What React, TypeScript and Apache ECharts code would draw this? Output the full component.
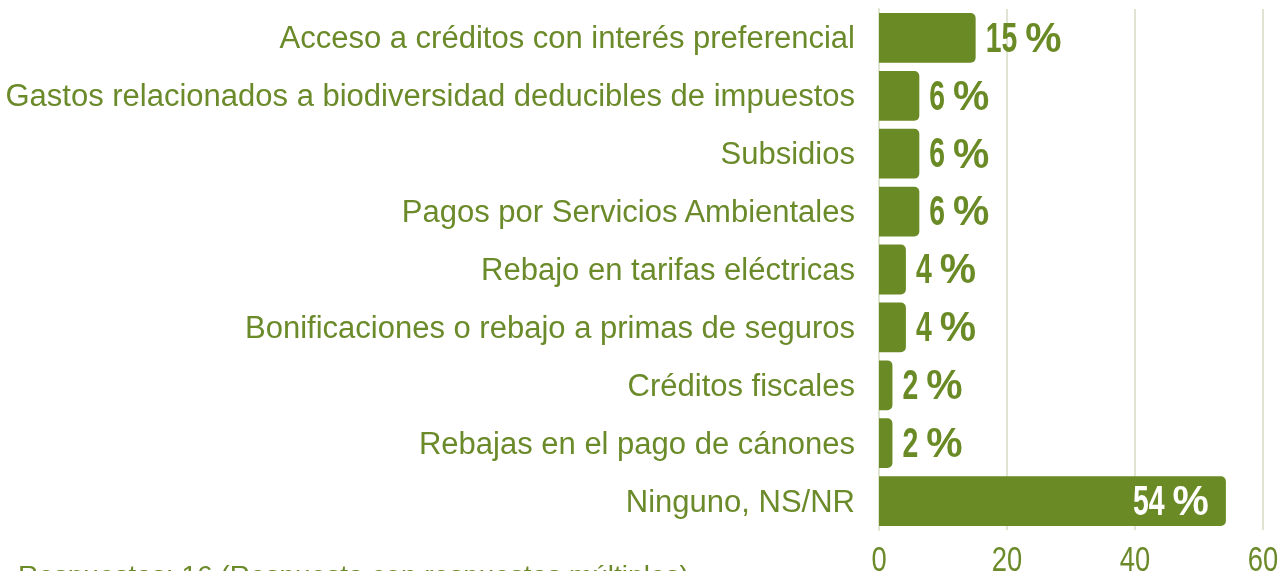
import React, { useEffect, useRef } from "react";
import * as echarts from "echarts";

const categories = [
  "Acceso a créditos con interés preferencial",
  "Gastos relacionados a biodiversidad deducibles de impuestos",
  "Subsidios",
  "Pagos por Servicios Ambientales",
  "Rebajo en tarifas eléctricas",
  "Bonificaciones o rebajo a primas de seguros",
  "Créditos fiscales",
  "Rebajas en el pago de cánones",
  "Ninguno, NS/NR",
];
const values = [15.1, 6.3, 6.3, 6.3, 4.2, 4.2, 2.1, 2.1, 54.2];
const xTicks = [0, 20, 40, 60];
const footnote = "Respuestas: 16 (Respuesta con respuestas múltiples)";

const GREEN = "#6a8a25";
const TEXT_GREEN = "#6b8a2a";
const GRID = "#dfe4d3";

const NUM_FONT = "bold 43px 'Liberation Sans', Arial, sans-serif";
const NUM_SCALE = 0.66;
const PCT_SCALE = 0.95;
const TICK_FONT = "36px 'Liberation Sans', Arial, sans-serif";

function measure(text: string, font: string): number {
  const ctx = document.createElement("canvas").getContext("2d");
  if (!ctx) return text.length * 20;
  ctx.font = font;
  return ctx.measureText(text).width;
}

export default function App() {
  const ref = useRef<HTMLDivElement>(null);
  useEffect(() => {
    if (!ref.current) return;
    const chart = echarts.init(ref.current, undefined, {
      renderer: "svg",
      width: 1281,
      height: 571,
    });
    const maxIdx = values.indexOf(Math.max(...values));
    const pctW = measure("%", NUM_FONT) * PCT_SCALE;
    const gap = 8;

    const labelItem = (params: any, api: any) => {
      const v = api.value(0);
      const idx = api.value(1);
      const [x, yc] = api.coord([v, idx]);
      const y = yc - 1;
      const num = String(Math.round(v));
      const numW = measure(num, NUM_FONT) * NUM_SCALE;
      const inside = params.dataIndex === maxIdx;
      const fill = inside ? "#ffffff" : GREEN;
      const start = inside ? x - 17 - pctW - gap - numW : x + 10;
      return {
        type: "group",
        children: [
          {
            type: "text",
            x: start,
            y,
            scaleX: NUM_SCALE,
            style: {
              text: num,
              fill,
              font: NUM_FONT,
              align: "left",
              verticalAlign: "middle",
              textAlign: "left",
              textVerticalAlign: "middle",
            },
          },
          {
            type: "text",
            x: start + numW + gap,
            y,
            scaleX: PCT_SCALE,
            style: {
              text: "%",
              fill,
              font: NUM_FONT,
              align: "left",
              verticalAlign: "middle",
              textAlign: "left",
              textVerticalAlign: "middle",
            },
          },
        ],
      };
    };

    const tickItem = (_params: any, api: any) => {
      const t = api.value(0);
      const idx = api.value(1);
      const [x, yc] = api.coord([t, idx]);
      const band = api.size([0, 1])[1];
      const y = yc + band / 2 + 29;
      return {
        type: "text",
        x,
        y,
        scaleX: 0.76,
        style: {
          text: String(t),
          fill: TEXT_GREEN,
          font: TICK_FONT,
          align: "center",
          verticalAlign: "middle",
          textAlign: "center",
          textVerticalAlign: "middle",
        },
      };
    };

    chart.setOption({
      animation: false,
      grid: { left: 879, width: 384, top: 9, height: 521, containLabel: false },
      xAxis: {
        type: "value",
        min: xTicks[0],
        max: xTicks[xTicks.length - 1],
        interval: xTicks[1] - xTicks[0],
        axisLine: { show: false },
        axisTick: { show: false },
        splitLine: { show: true, lineStyle: { color: GRID, width: 2 } },
        axisLabel: { show: false },
      },
      yAxis: {
        type: "category",
        data: categories,
        inverse: true,
        axisLine: { show: true, lineStyle: { color: GRID, width: 2 } },
        axisTick: { show: false },
        axisLabel: {
          color: TEXT_GREEN,
          fontFamily: "'Liberation Sans', Arial, sans-serif",
          fontSize: 31,
          margin: 24,
        },
      },
      series: [
        {
          type: "bar",
          barCategoryGap: "14%",
          itemStyle: { color: GREEN, borderRadius: [0, 5, 5, 0] },
          data: values,
          z: 2,
        },
        {
          type: "custom",
          renderItem: labelItem,
          data: values.map((v, i) => [v, i]),
          encode: { x: 0, y: 1 },
          clip: false,
          silent: true,
          z: 5,
        },
        {
          type: "custom",
          renderItem: tickItem,
          data: xTicks.map((t) => [t, categories.length - 1]),
          encode: { x: 0, y: 1 },
          clip: false,
          silent: true,
          z: 5,
        },
      ],
      graphic: [
        {
          type: "text",
          x: 18,
          y: 575,
          style: {
            text: footnote,
            fill: TEXT_GREEN,
            font: "28px 'Liberation Sans', Arial, sans-serif",
            textVerticalAlign: "middle",
            verticalAlign: "middle",
          },
        },
      ],
    });
    return () => chart.dispose();
  }, []);
  return (
    <div
      ref={ref}
      style={{ position: "fixed", left: 0, top: 0, width: 1281, height: 571 }}
    />
  );
}
